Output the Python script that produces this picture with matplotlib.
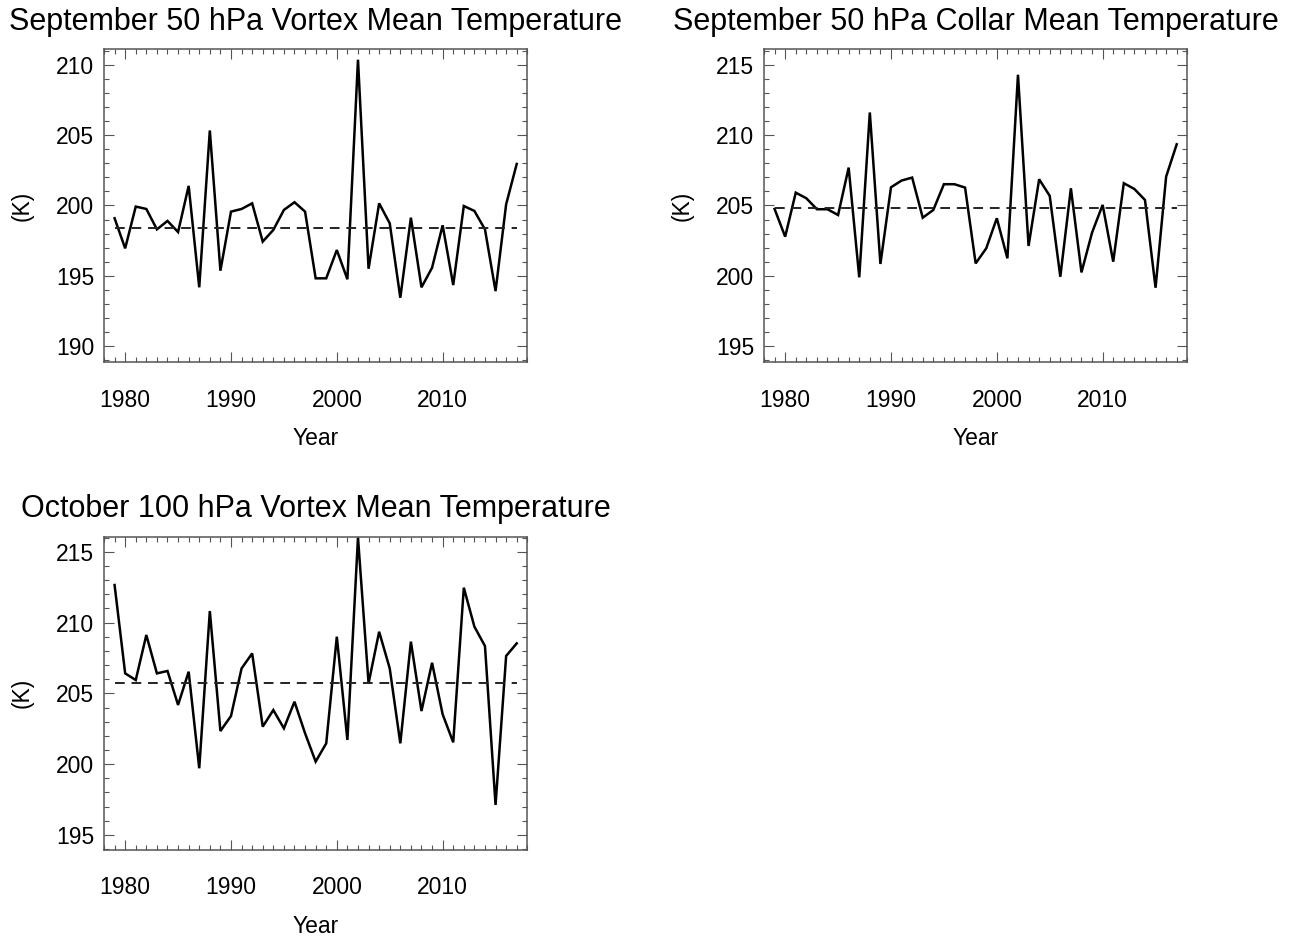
"""Antarctic vortex / collar mean temperature time series, three-panel IDL-style figure."""
import matplotlib
matplotlib.use("Agg")
import matplotlib.pyplot as plt
from matplotlib.ticker import MultipleLocator

plt.rcParams["font.family"] = ["Liberation Sans", "DejaVu Sans"]

YEARS = list(range(1979, 2018))

SEP50_VORTEX = [199.09, 196.95, 199.92, 199.75, 198.30, 198.90, 198.11, 201.39, 194.18, 205.33,
                195.36, 199.56, 199.75, 200.15, 197.43, 198.26, 199.68, 200.23, 199.56, 194.82,
                194.82, 196.83, 194.75, 210.36, 195.50, 200.15, 198.73, 193.44, 199.13, 194.18,
                195.57, 198.59, 194.34, 199.96, 199.61, 198.30, 193.91, 200.08, 202.95]
SEP50_COLLAR = [204.75, 202.78, 205.91, 205.51, 204.73, 204.73, 204.32, 207.69, 199.89, 211.61,
                200.84, 206.29, 206.77, 206.98, 204.13, 204.68, 206.51, 206.51, 206.27, 200.88,
                201.95, 204.09, 201.24, 214.29, 202.12, 206.86, 205.68, 199.93, 206.22, 200.24,
                203.07, 205.04, 201.00, 206.58, 206.17, 205.39, 199.15, 207.05, 209.35]
OCT100_VORTEX = [212.65, 206.41, 205.94, 209.12, 206.41, 206.58, 204.18, 206.53, 199.71, 210.81,
                 202.34, 203.40, 206.76, 207.82, 202.65, 203.82, 202.53, 204.41, 202.18, 200.18,
                 201.47, 209.00, 201.71, 216.00, 205.71, 209.35, 206.76, 201.47, 208.65, 203.75,
                 207.16, 203.52, 201.54, 212.46, 209.71, 208.34, 197.12, 207.64, 208.53]

MEANS = [198.42, 204.80, 205.75]
TITLES = ["September 50 hPa Vortex Mean Temperature",
          "September 50 hPa Collar Mean Temperature",
          "October 100 hPa Vortex Mean Temperature"]
YRANGES = [(188.85, 211.1), (193.85, 216.1), (193.94, 216.06)]
YTICKS = [[190, 195, 200, 205, 210], [195, 200, 205, 210, 215], [195, 200, 205, 210, 215]]
SERIES = [SEP50_VORTEX, SEP50_COLLAR, OCT100_VORTEX]

W, H = 1296, 938
# axes boxes in pixels: left, top, right, bottom
BOXES = [(104, 49.3, 527.3, 362.3), (764, 49.3, 1187.3, 362.3), (104, 536.7, 527.3, 850)]

fig = plt.figure(figsize=(W / 100, H / 100), dpi=100)
EDGE = "#555555"

for box, vals, mean, title, yr, yt in zip(BOXES, SERIES, MEANS, TITLES, YRANGES, YTICKS):
    l, t, r, b = box
    ax = fig.add_axes([l / W, 1 - b / H, (r - l) / W, (b - t) / H])
    ax.plot(YEARS, vals, color="black", lw=1.8, solid_joinstyle="miter")
    ax.plot([YEARS[0], YEARS[-1]], [mean, mean], color="#222222", lw=1.4,
            linestyle=(0, (5, 3.5)))
    ax.set_xlim(1978, 2018)
    ax.set_ylim(*yr)
    ax.set_xticks([1980, 1990, 2000, 2010])
    ax.set_yticks(yt)
    ax.xaxis.set_minor_locator(MultipleLocator(1))
    ax.yaxis.set_minor_locator(MultipleLocator(1))
    ax.tick_params(which="both", direction="in", top=True, right=True, colors=EDGE,
                   labelcolor="black", width=0.8)
    ax.tick_params(which="major", length=7, labelsize=16.5)
    ax.tick_params(which="minor", length=3.5)
    ax.tick_params(axis="x", which="major", pad=19)
    ax.tick_params(axis="y", which="major", pad=7)
    for s in ax.spines.values():
        s.set_color(EDGE)
        s.set_linewidth(1.1)
    ax.set_xlabel("Year", fontsize=16.5, labelpad=11)
    ax.set_ylabel("(K)", fontsize=16.5, labelpad=16)
    ax.set_title(title, fontsize=22, pad=14)

fig.savefig("out.png", dpi=100)
